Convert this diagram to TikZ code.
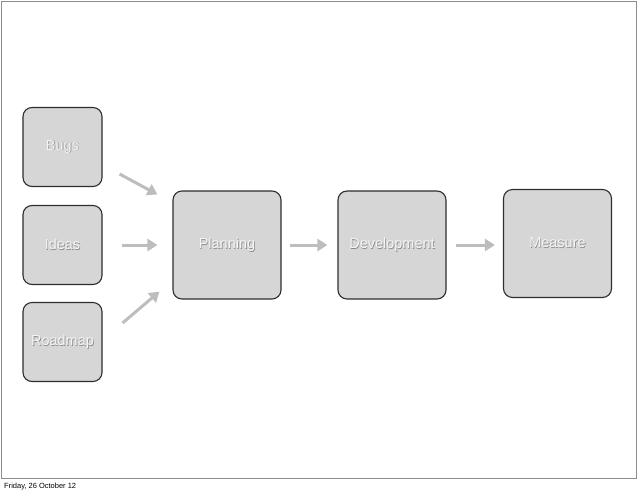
\documentclass[tikz,border=0pt]{standalone}
\usepackage{fontspec}
\setmainfont{Liberation Sans}
\usetikzlibrary{arrows.meta}

\definecolor{boxgray}{HTML}{D6D6D6}
\definecolor{boxline}{HTML}{2E2E2E}
\definecolor{flowgray}{HTML}{BDBDBD}
\definecolor{framegray}{HTML}{8C8C8C}
\definecolor{txtshadow}{HTML}{8A8A8A}

% white slide text with a small drop shadow
\newcommand{\slidetext}[1]{\leavevmode\rlap{\kern0.7pt\raisebox{-0.9pt}{\textcolor{txtshadow}{#1}}}\textcolor{white!96!black}{#1}}

\tikzset{
  stage/.style={draw=boxline, line width=1.1pt, fill=boxgray, rounded corners=9pt,
    minimum width=#1, minimum height=#1, inner sep=0pt,
    font=\fontsize{14.5}{17}\selectfont},
  stage/.default=79pt,
  flow/.style={draw=flowgray, line width=3pt,
    -{Triangle[length=10pt,width=12pt]}},
}

\begin{document}
\begin{tikzpicture}[x=1pt, y=-1pt]
  \useasboundingbox (0,0) rectangle (638,491);

  % Marco de la diapositiva
  \draw[framegray, line width=1pt] (1,1) rectangle (636,478);

  % Entradas
  \node[stage] (bugs) at (62.5,147) {\slidetext{Bugs}};
  \node[stage] (ideas) at (62.5,245) {\slidetext{Ideas}};
  \node[stage] (roadmap) at (62.5,342) {\slidetext{Roadmap}};

  % Etapas
  \node[stage=108pt] (planning) at (227,245) {\slidetext{Planning}};
  \node[stage=108pt] (development) at (392,245) {\slidetext{Development}};
  \node[stage=108pt] (measure) at (557.5,243.5) {\slidetext{Measure}};

  % Flechas de entrada
  \draw[flow] ([xshift=17pt,yshift=-27pt]bugs.east) -- ([xshift=-15pt,yshift=-4pt]planning.north west);
  \draw[flow, shorten <=19pt, shorten >=15pt] (ideas.east) -- (planning.west);
  \draw[flow] ([xshift=20pt,yshift=19pt]roadmap.east) -- ([xshift=-13pt,yshift=8pt]planning.south west);

  % Flechas entre etapas
  \draw[flow, shorten <=8pt, shorten >=10pt] (planning.east) -- (development.west);
  \draw[flow, shorten <=9pt, shorten >=8pt] (development.east) -- (measure.west |- development.west);

  % Pie
  \node[anchor=base west, inner sep=0pt, font=\fontsize{7.5}{9}\selectfont] (footer) at (4,488) {Friday, 26 October 12};
\end{tikzpicture}
\end{document}
